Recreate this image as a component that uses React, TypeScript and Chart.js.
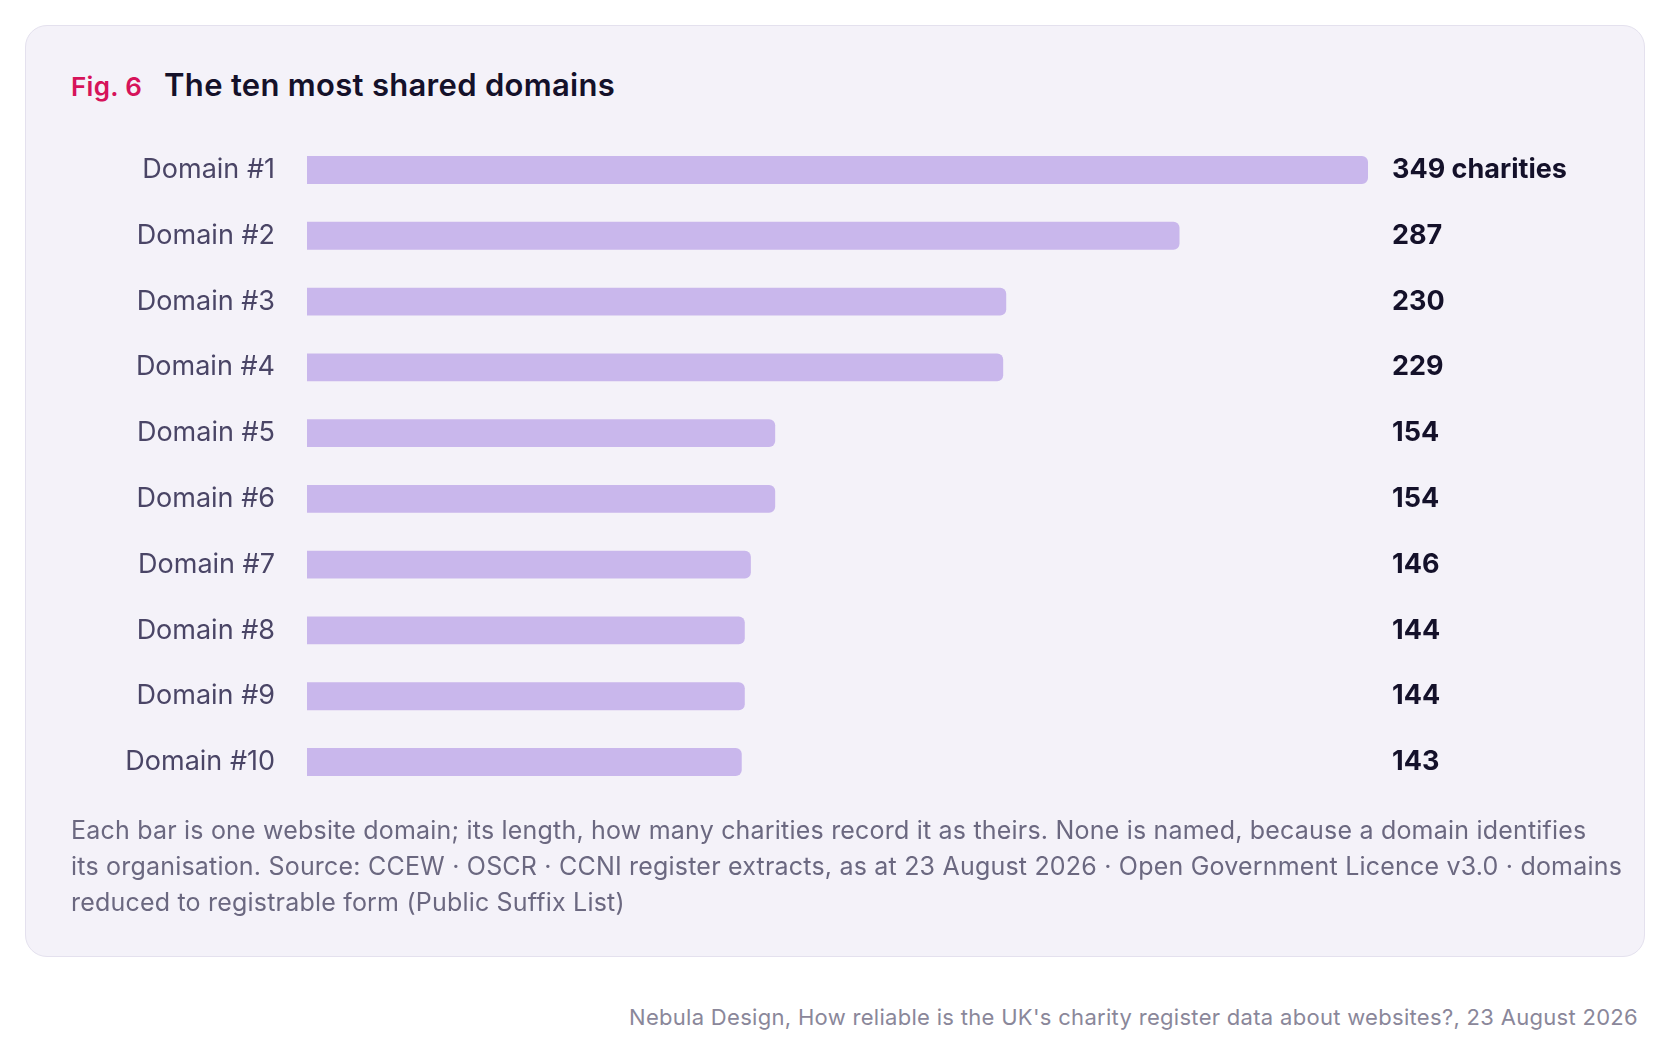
import React, { useEffect, useRef } from "react";
import { Chart, registerables } from "chart.js";
Chart.register(...registerables);

const categories = ["Domain #1","Domain #2","Domain #3","Domain #4","Domain #5","Domain #6","Domain #7","Domain #8","Domain #9","Domain #10"];
const values = [349, 287, 230, 229, 154, 154, 146, 144, 144, 143];
const valueLabels = ["349 charities","287","230","229","154","154","146","144","144","143"];

const FONT = "Inter, 'Open Sans', sans-serif";

export default function App() {
  const ref = useRef<HTMLCanvasElement>(null);
  useEffect(() => {
    const valuePlugin = {
      id: "vals",
      afterDatasetsDraw(chart: any) {
        const ctx = chart.ctx;
        const meta = chart.getDatasetMeta(0);
        ctx.save();
        ctx.font = `700 27px ${FONT}`;
        ctx.fillStyle = "#14112a";
        ctx.textBaseline = "middle";
        meta.data.forEach((bar: any, i: number) => {
          ctx.fillText(valueLabels[i], chart.chartArea.right + 24, bar.y);
        });
        ctx.restore();
      },
    };
    const chart = new Chart(ref.current!, {
      type: "bar",
      data: {
        labels: categories,
        datasets: [{ data: values, backgroundColor: "#c9b7ec", borderRadius: 6, borderSkipped: "start", barPercentage: 0.425, categoryPercentage: 1 }],
      },
      options: {
        indexAxis: "y",
        animation: false,
        responsive: false,
        layout: { padding: { right: 263, top: 0, bottom: 0, left: 0 } },
        plugins: { legend: { display: false }, tooltip: { enabled: false } },
        scales: {
          x: { display: false, min: 0, max: 349 },
          y: {
            grid: { display: false },
            border: { display: false },
            ticks: { color: "#4a4566", font: { family: FONT, size: 27 }, padding: 24 },
            afterFit(s: any) { s.width = 236; },
          },
        },
      },
      plugins: [valuePlugin],
    });
    return () => chart.destroy();
  }, []);

  return (
    <div style={{ position: "absolute", left: 0, top: 0, width: 1672, height: 1057, background: "#fff", fontFamily: FONT }}>
      <div style={{ position: "absolute", left: 25, top: 25, width: 1620, height: 932, background: "#f4f2f9", border: "1.5px solid #e4e1ee", borderRadius: 22, boxSizing: "border-box" }} />
      <div style={{ position: "absolute", left: 71, top: 66, fontSize: 31, fontWeight: 600, whiteSpace: "nowrap", letterSpacing: "0.3px" }}>
        <span style={{ color: "#d6135a", fontSize: 26 }}>Fig. 6</span>
        <span style={{ color: "#14112a", marginLeft: 22 }}>The ten most shared domains</span>
      </div>
      <canvas ref={ref} width={1560} height={738} style={{ position: "absolute", left: 71, top: 97, width: 1560, height: 738 }} />
      <div style={{ position: "absolute", left: 71, top: 812, fontSize: 25, lineHeight: "36px", color: "#6b6880", whiteSpace: "nowrap", letterSpacing: "0.2px" }}>
        Each bar is one website domain; its length, how many charities record it as theirs. None is named, because a domain identifies<br />
        its organisation. Source: CCEW · OSCR · CCNI register extracts, as at 23 August 2026 · Open Government Licence v3.0 · domains<br />
        reduced to registrable form (Public Suffix List)
      </div>
      <div style={{ position: "absolute", right: 34, top: 1004, fontSize: 22, color: "#8a879a", whiteSpace: "nowrap", letterSpacing: "0.3px" }}>
        Nebula Design, How reliable is the UK's charity register data about websites?, 23 August 2026
      </div>
    </div>
  );
}
